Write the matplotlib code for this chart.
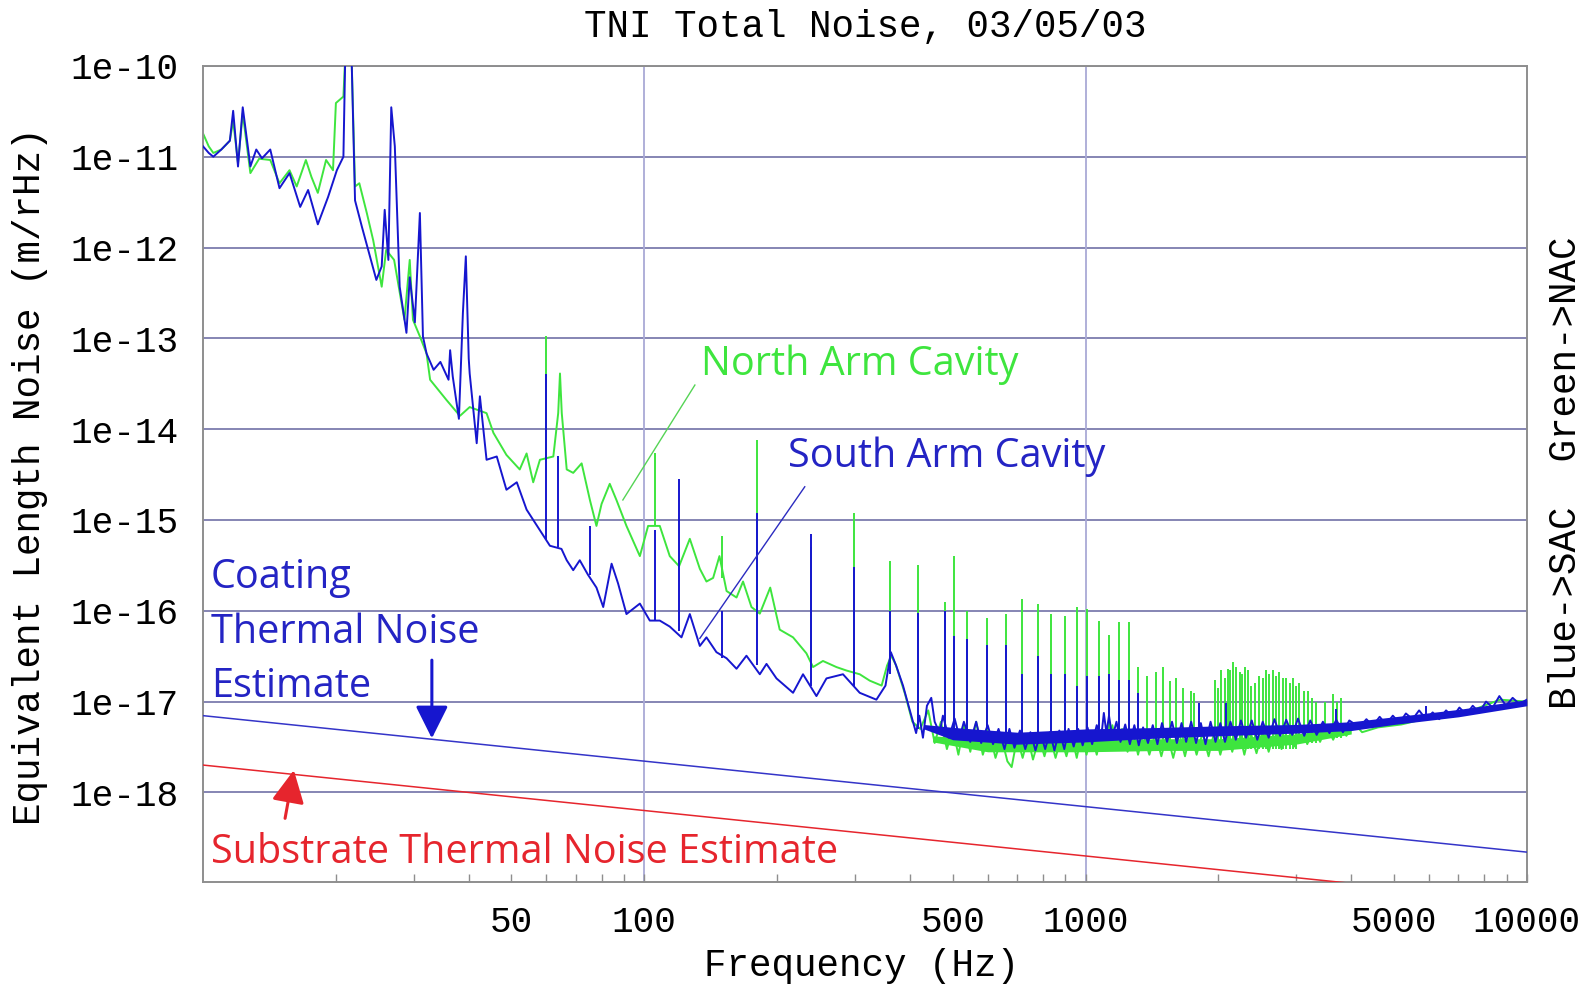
import matplotlib.pyplot as plt
from matplotlib.ticker import NullFormatter, NullLocator

# ---- data (m/rHz vs Hz) ----
# South arm cavity (blue) - noise floor incl. wide low-frequency features
freq_sac = [10.0, 10.3, 10.55, 11.0, 11.5, 11.7, 12.0, 12.3, 12.8, 13.2, 13.6, 14.2,
            14.9, 15.7, 16.6, 17.3, 18.2, 19.2, 20.1, 20.8, 21.0, 21.7, 22.1, 22.9,
            24.7, 25.4, 25.8, 26.3, 26.7, 27.2, 27.9, 28.9, 29.4, 30.2, 31.0, 31.5,
            32.1, 33.3, 34.5, 36.0, 36.3, 36.8, 38.0, 38.8, 39.4, 40.0, 40.2, 41.7,
            42.4, 43.9, 46.3, 48.7, 51.4, 54.1, 58.0, 61.1, 64.9, 66.7, 69.0, 71.4,
            74.5, 77.9, 80.7, 84.3, 87.2, 91.1, 97.7, 102.9, 108.4, 114.2, 121.4, 126.8,
            133.6, 138.3, 145.7, 153.6, 161.8, 170.4, 182.7, 189.2, 199.3, 217.3, 228.9, 245.5,
            258.7, 282.0, 307.7, 335.7, 352, 362, 372, 385.7, 413, 420, 428, 437,
            447, 455, 467, 475, 490, 505, 518, 530, 548, 565, 580, 600,
            617, 635, 655, 672, 690, 710, 730, 750, 770, 790, 810, 830,
            850, 872, 895, 915, 940, 962, 985, 1010, 1035, 1060, 1085, 1100,
            1115, 1130, 1150, 1175, 1200, 1230, 1260, 1290, 1320, 1350, 1385, 1420,
            1455, 1490, 1530, 1570, 1610, 1650, 1690, 1735, 1780, 1825, 1870, 1920,
            1970, 2020, 2070, 2130, 2190, 2250, 2310, 2380, 2450, 2520, 2600, 2680,
            2760, 2850, 2940, 3030, 3130, 3230, 3340, 3450, 3570, 3700, 3830, 3960,
            4175, 4330, 4475, 4640, 4797, 4970, 5143, 5320, 5511, 5700, 5909, 6118,
            6330, 6561, 6800, 7034, 7290, 7541, 7800, 8083, 8370, 8664, 8970, 9287,
            9620, 10000]
sac = [1.3e-11, 1.1e-11, 1.0e-11, 1.2e-11, 1.5e-11, 3.2e-11, 7.8e-12, 3.5e-11, 7.8e-12, 1.2e-11, 9.6e-12, 1.2e-11,
       4.5e-12, 6.6e-12, 2.8e-12, 4.3e-12, 1.8e-12, 3.6e-12, 7.1e-12, 1.0e-11, 1.3e-10, 1.3e-10, 3.3e-12, 1.7e-12,
       4.4e-13, 6.2e-13, 2.6e-12, 7.3e-13, 3.5e-11, 1.3e-11, 3.7e-13, 1.15e-13, 4.7e-13, 1.5e-13, 2.4e-12, 1.05e-13,
       6.8e-14, 4.5e-14, 5.5e-14, 3.5e-14, 7.4e-14, 3.8e-14, 1.3e-14, 1.9e-13, 8.0e-13, 6.0e-14, 4.1e-14, 7.0e-15,
       2.3e-14, 4.6e-15, 5.0e-15, 2.15e-15, 2.6e-15, 1.3e-15, 7.7e-16, 5.2e-16, 4.8e-16, 3.6e-16, 2.8e-16, 3.6e-16,
       2.5e-16, 1.8e-16, 1.1e-16, 3.3e-16, 2.0e-16, 9.2e-17, 1.2e-16, 7.8e-17, 7.8e-17, 6.7e-17, 5.1e-17, 9.2e-17,
       4.1e-17, 5.1e-17, 3.5e-17, 3.0e-17, 2.3e-17, 3.2e-17, 2.0e-17, 2.6e-17, 1.8e-17, 1.25e-17, 2.0e-17, 1.15e-17,
       1.8e-17, 2.0e-17, 1.25e-17, 1.05e-17, 1.5e-17, 3.5e-17, 2.5e-17, 1.5e-17, 4.5e-18, 7.0e-18, 4.0e-18, 9.0e-18,
       1.1e-17, 6.0e-18, 4.5e-18, 7.0e-18, 4.0e-18, 6.5e-18, 4.0e-18, 6.0e-18, 3.6e-18, 6.0e-18, 3.5e-18, 5.5e-18,
       3.4e-18, 5.0e-18, 3.0e-18, 5.0e-18, 3.1e-18, 4.8e-18, 3.0e-18, 4.6e-18, 2.9e-18, 4.5e-18, 3.0e-18, 4.6e-18,
       2.9e-18, 4.8e-18, 3.0e-18, 5.0e-18, 3.2e-18, 5.0e-18, 3.3e-18, 5.2e-18, 3.4e-18, 5.5e-18, 4.0e-18, 7.5e-18,
       4.5e-18, 7.0e-18, 4.0e-18, 6.0e-18, 3.6e-18, 5.6e-18, 3.4e-18, 5.5e-18, 3.3e-18, 5.2e-18, 3.5e-18, 5.5e-18,
       3.4e-18, 5.8e-18, 3.6e-18, 6.0e-18, 3.5e-18, 5.8e-18, 3.6e-18, 6.0e-18, 3.5e-18, 5.8e-18, 3.4e-18, 6.0e-18,
       3.6e-18, 5.8e-18, 3.6e-18, 6.0e-18, 3.8e-18, 6.2e-18, 4.0e-18, 6.2e-18, 3.8e-18, 6.0e-18, 4.0e-18, 6.4e-18,
       4.2e-18, 6.3e-18, 4.3e-18, 6.5e-18, 4.2e-18, 6.2e-18, 4.3e-18, 6.0e-18, 4.5e-18, 6.3e-18, 4.6e-18, 6.2e-18,
       5.2e-18, 6.4e-18, 5.4e-18, 6.8e-18, 5.6e-18, 7.0e-18, 5.8e-18, 7.4e-18, 6.4e-18, 8.0e-18, 6.4e-18, 7.6e-18,
       6.4e-18, 8.0e-18, 6.8e-18, 8.6e-18, 7.2e-18, 9.0e-18, 7.6e-18, 1.0e-17, 8.6e-18, 1.15e-17, 9.0e-18, 1.1e-17,
       9.4e-18, 1.05e-17]

# SAC narrow lines: frequency, floor under the line, top of the line
spike_f_sac = [60.0, 63.8, 75.3, 105.6, 119.9, 149.6, 179.6, 239.2, 298.2, 359.8, 417, 479,
               502, 538.5, 597.7, 659, 719, 780, 836, 896, 958, 1007, 1072, 1129,
               1190, 1253, 1314, 1812, 2082, 3698, 5909]
spike_lo_sac = [6e-16, 5e-16, 2.5e-16, 8e-17, 6e-17, 3e-17, 2.5e-17, 1.5e-17, 1.5e-17, 2e-17, 5e-18, 5e-18,
                5e-18, 5e-18, 5e-18, 4e-18, 4e-18, 4e-18, 4e-18, 4e-18, 4e-18, 4e-18, 5e-18, 6e-18,
                5e-18, 5e-18, 4e-18, 4.5e-18, 4.5e-18, 5e-18, 7e-18]
spike_hi_sac = [4.1e-14, 5e-15, 8.5e-16, 7.7e-16, 2.8e-15, 1e-16, 1.2e-15, 7e-16, 3e-16, 1e-16, 9.5e-17, 1e-16,
                5.3e-17, 4.9e-17, 4.2e-17, 4.2e-17, 2e-17, 3.2e-17, 2e-17, 2e-17, 1.5e-17, 1.9e-17, 1.9e-17, 2e-17,
                1.75e-17, 1.75e-17, 1.25e-17, 9.6e-18, 9.6e-18, 8.2e-18, 9e-18]

# SAC trace core above ~430 Hz (dense data drawn as a band)
band_f_sac = [430, 500, 700, 1000, 1500, 2000, 3000, 4000, 5000, 7000, 10000]
band_lo_sac = [5.0e-18, 3.8e-18, 3.4e-18, 3.6e-18, 4.0e-18, 4.2e-18, 4.5e-18, 4.8e-18, 5.6e-18, 6.8e-18, 9.0e-18]
band_hi_sac = [5.6e-18, 5.2e-18, 4.6e-18, 5.0e-18, 5.2e-18, 5.4e-18, 5.6e-18, 6.0e-18, 6.8e-18, 8.2e-18, 1.05e-17]

# North arm cavity (green)
freq_nac = [10.0, 10.3, 10.55, 11.0, 11.5, 11.7, 12.0, 12.3, 12.8, 13.4, 14.2, 14.9,
            15.7, 16.3, 17.1, 17.6, 18.2, 19.0, 19.7, 20.0, 20.8, 21.0, 21.7, 22.1,
            22.6, 23.5, 24.3, 25.4, 26.0, 27.1, 28.6, 29.4, 29.9, 31.0, 32.1, 32.7,
            35.6, 38.2, 40.2, 43.9, 45.5, 48.7, 52.2, 54.1, 56.0, 58.0, 62.2, 63.8,
            64.4, 65.0, 66.7, 69.0, 72.1, 75.3, 77.9, 80.0, 83.5, 86.5, 91.1, 97.7,
            102, 108.4, 114.2, 119.9, 126.8, 133.6, 138.3, 143.2, 148, 153.6, 161.8, 167.4,
            174.9, 182.7, 192.9, 202.7, 217.3, 233, 241.2, 254, 272.5, 287, 307.7, 324.3,
            345, 355, 363, 372, 390, 405, 422, 440, 455, 470, 485, 500,
            515, 530, 548, 565, 585, 606, 625, 645, 665, 680, 700, 720,
            740, 760, 785, 807, 830, 855, 880, 905, 930, 955, 980, 1005,
            1030, 1060, 1090, 1120, 1150, 1180, 1210, 1245, 1280, 1315, 1350, 1395,
            1440, 1485, 1530, 1580, 1630, 1680, 1730, 1785, 1840, 1900, 1960, 2020,
            2085, 2150, 2220, 2290, 2360, 2440, 2520, 2600, 2690, 2780, 2870, 2970,
            3070, 3180, 3290, 3400, 3520, 3640, 3770, 3900, 4050, 4234, 4600, 5200,
            5900, 6600, 7500, 8700, 10000]
nac = [1.8e-11, 1.3e-11, 1.1e-11, 1.2e-11, 1.5e-11, 2.5e-11, 8.5e-12, 3.0e-11, 6.6e-12, 9.5e-12, 9.2e-12, 5.1e-12,
       7.1e-12, 4.7e-12, 9.2e-12, 6.0e-12, 4.0e-12, 9.2e-12, 7.1e-12, 3.9e-11, 4.6e-11, 1.3e-10, 1.3e-10, 4.7e-12,
       5.1e-12, 2.4e-12, 1.2e-12, 3.7e-13, 9.4e-13, 7.3e-13, 1.6e-13, 7.3e-13, 1.6e-13, 1.05e-13, 6.8e-14, 3.5e-14,
       2.1e-14, 1.4e-14, 1.75e-14, 1.5e-14, 9.1e-15, 5.2e-15, 3.6e-15, 5.4e-15, 2.6e-15, 4.6e-15, 5.0e-15, 1.5e-14,
       4.1e-14, 1.5e-14, 3.6e-15, 3.3e-15, 4.2e-15, 1.65e-15, 8.6e-16, 1.5e-15, 2.5e-15, 1.65e-15, 8.6e-16, 4.0e-16,
       8.6e-16, 8.6e-16, 4.0e-16, 3.1e-16, 6.2e-16, 2.9e-16, 2.1e-16, 2.3e-16, 4.0e-16, 1.65e-16, 1.4e-16, 2.1e-16,
       1.1e-16, 9.3e-17, 1.8e-16, 6.2e-17, 5.1e-17, 3.4e-17, 2.4e-17, 2.8e-17, 2.4e-17, 2.2e-17, 2.0e-17, 1.7e-17,
       1.5e-17, 2.5e-17, 3.2e-17, 2.5e-17, 1.2e-17, 6.0e-18, 5.0e-18, 8.0e-18, 3.5e-18, 6.0e-18, 3.0e-18, 5.0e-18,
       2.6e-18, 5.5e-18, 2.8e-18, 6.0e-18, 2.6e-18, 4.5e-18, 2.4e-18, 4.0e-18, 2.2e-18, 1.9e-18, 4.0e-18, 2.4e-18,
       4.0e-18, 2.3e-18, 4.0e-18, 2.5e-18, 4.2e-18, 2.4e-18, 4.0e-18, 2.5e-18, 4.2e-18, 2.4e-18, 4.5e-18, 2.6e-18,
       4.5e-18, 2.6e-18, 5.0e-18, 3.0e-18, 5.5e-18, 3.0e-18, 5.0e-18, 2.8e-18, 4.8e-18, 2.6e-18, 4.5e-18, 2.6e-18,
       4.5e-18, 2.5e-18, 4.4e-18, 2.4e-18, 4.5e-18, 2.5e-18, 4.6e-18, 2.6e-18, 4.5e-18, 2.5e-18, 4.8e-18, 2.6e-18,
       4.6e-18, 2.8e-18, 5.0e-18, 2.6e-18, 4.8e-18, 2.7e-18, 4.8e-18, 2.8e-18, 5.0e-18, 3.0e-18, 5.2e-18, 3.2e-18,
       5.2e-18, 3.4e-18, 5.2e-18, 3.6e-18, 5.4e-18, 3.8e-18, 5.5e-18, 4.2e-18, 5.8e-18, 4.6e-18, 5.2e-18, 5.6e-18,
       6.5e-18, 7.0e-18, 8.0e-18, 1.05e-17, 1.0e-17]

spike_f_nac = [60.0, 105.6, 149.6, 179.6, 239.2, 298.2, 359.8, 417, 479, 502, 538.5, 597.7,
               659, 719, 780, 836, 896, 958, 1007, 1072, 1129, 1190, 1253, 1314,
               1380, 1441, 1497, 1550, 1605, 1661, 1736, 1765, 1960, 1995, 2030, 2065,
               2100, 2128, 2156, 2195, 2233, 2262, 2292, 2330, 2373, 2425, 2477, 2520,
               2567, 2610, 2657, 2700, 2750, 2800, 2849, 2900, 2949, 3000, 3052, 3120,
               3189, 3260, 3331, 3480, 3632, 3710, 3795]
spike_lo_nac = [4.6e-15, 8.6e-16, 2.3e-16, 1.1e-16, 3e-17, 2.2e-17, 2.5e-17, 5e-18, 5e-18, 4e-18, 4e-18, 4e-18,
                4e-18, 4e-18, 4e-18, 3.5e-18, 3.5e-18, 3.5e-18, 4e-18, 4e-18, 5e-18, 5e-18, 5e-18, 4e-18,
                3e-18, 3e-18, 3e-18, 3e-18, 3e-18, 3e-18, 3e-18, 3e-18, 3e-18, 3e-18, 3e-18, 3e-18,
                3e-18, 3e-18, 3e-18, 3e-18, 3e-18, 3e-18, 3e-18, 3e-18, 3e-18, 3e-18, 3e-18, 3e-18,
                3e-18, 3e-18, 3e-18, 3e-18, 3e-18, 3e-18, 3e-18, 3e-18, 3e-18, 3e-18, 3.5e-18, 3.5e-18,
                3.5e-18, 3.5e-18, 3.5e-18, 4e-18, 4e-18, 4e-18, 4e-18]
spike_hi_nac = [1.05e-13, 5.4e-15, 6.6e-16, 7.6e-15, 5e-16, 1.2e-15, 3.5e-16, 3.2e-16, 1.25e-16, 4e-16, 1e-16, 8.3e-17,
                9.2e-17, 1.35e-16, 1.2e-16, 9.2e-17, 8.7e-17, 1.1e-16, 1.05e-16, 7.8e-17, 5.4e-17, 7.6e-17, 7.6e-17, 2.4e-17,
                1.9e-17, 2.1e-17, 2.4e-17, 1.7e-17, 1.8e-17, 1.4e-17, 1.3e-17, 1.25e-17, 1.75e-17, 1.4e-17, 2.2e-17, 1.8e-17,
                2.3e-17, 2.2e-17, 2.7e-17, 2.4e-17, 2.1e-17, 2.0e-17, 2.4e-17, 2.2e-17, 1.5e-17, 1.6e-17, 1.9e-17, 1.8e-17,
                2.2e-17, 2.0e-17, 2.2e-17, 1.9e-17, 2.1e-17, 1.8e-17, 1.8e-17, 1.6e-17, 1.8e-17, 1.5e-17, 1.6e-17, 1.3e-17,
                1.3e-17, 1.1e-17, 1e-17, 1e-17, 1.2e-17, 1e-17, 1.1e-17]

band_f_nac = [450, 600, 1000, 1500, 2000, 3000, 4000]
band_lo_nac = [3.6e-18, 2.8e-18, 2.8e-18, 2.9e-18, 2.9e-18, 3.4e-18, 4.4e-18]
band_hi_nac = [4.2e-18, 3.8e-18, 3.8e-18, 3.9e-18, 3.9e-18, 4.4e-18, 5.2e-18]

# thermal noise estimates (straight lines on log-log)
est_f = [10, 10000]
coating = [7.0e-18, 2.2e-19]
substrate = [2.0e-18, 6.3e-20]

x_major = [50, 100, 500, 1000, 5000, 10000]
x_labels = ["50", "100", "500", "1000", "5000", "10000"]
x_minor = [20, 30, 40, 60, 70, 80, 90, 200, 300, 400, 600, 700, 800, 900,
           2000, 3000, 4000, 6000, 7000, 8000, 9000]
x_grid = [100, 1000]
y_major = [1e-10, 1e-11, 1e-12, 1e-13, 1e-14, 1e-15, 1e-16, 1e-17, 1e-18]
y_labels = ["1e-10", "1e-11", "1e-12", "1e-13", "1e-14", "1e-15", "1e-16", "1e-17", "1e-18"]

GREEN = "#3ee53e"
BLUE = "#1616cf"
TXT_BLUE = "#2424c4"
RED = "#e6252d"
MONO = "Liberation Mono"
SANS = "Open Sans"

plt.rcParams["font.family"] = MONO

fig = plt.figure(figsize=(15.84, 9.85), dpi=100)
ax = fig.add_axes([0.1282, 0.1049, 0.8357, 0.8282])
ax.set_xscale("log")
ax.set_yscale("log")
ax.set_xlim(10, 10000)
ax.set_ylim(1.04e-19, 1e-10)

for y in y_major:
    ax.axhline(y, color="#7c7cae", lw=1.3, zorder=0)
for x in x_grid:
    ax.axvline(x, color="#a9a9d6", lw=1.3, zorder=0)

# green (north arm) first, blue drawn over it
ax.fill_between(band_f_nac, band_lo_nac, band_hi_nac, color=GREEN, lw=0, zorder=2)
ax.plot(freq_nac, nac, color=GREEN, lw=1.4, zorder=2)
ax.vlines(spike_f_nac, spike_lo_nac, spike_hi_nac, color=GREEN, lw=1.4, zorder=2)

ax.fill_between(band_f_sac, band_lo_sac, band_hi_sac, color=BLUE, lw=0, zorder=3)
ax.plot(freq_sac, sac, color=BLUE, lw=1.4, zorder=3)
ax.vlines(spike_f_sac, spike_lo_sac, spike_hi_sac, color=BLUE, lw=1.4, zorder=3)

ax.plot(est_f, coating, color="#3434c8", lw=1.1, zorder=3)
ax.plot(est_f, substrate, color=RED, lw=1.1, zorder=3)

# labels pointing at the traces
ax.plot([130.2, 89.4], [3.06e-14, 1.66e-15], color="#55d455", lw=1.0, zorder=4)
ax.plot([231, 133.6], [2.32e-15, 4.97e-17], color="#2b2bc0", lw=1.0, zorder=4)
ax.annotate("", xy=(33.0, 3.94e-18), xytext=(33.0, 2.86e-17),
            arrowprops=dict(arrowstyle="-|>,head_length=0.4,head_width=0.2", mutation_scale=50,
                            lw=2.2, color=BLUE, shrinkA=0, shrinkB=0), zorder=5)
ax.annotate("", xy=(16.06, 1.76e-18), xytext=(15.34, 5.18e-19),
            arrowprops=dict(arrowstyle="-|>,head_length=0.4,head_width=0.2", mutation_scale=50,
                            lw=2.2, color=RED, shrinkA=0, shrinkB=0), zorder=5)

fig.text(0.4426, 0.6193, "North Arm Cavity", color=GREEN, fontsize=28.5, family=SANS, va="baseline")
fig.text(0.4975, 0.5256, "South Arm Cavity", color=TXT_BLUE, fontsize=28.5, family=SANS, va="baseline")
fig.text(0.1332, 0.4027, "Coating", color=TXT_BLUE, fontsize=28.5, family=SANS, va="baseline")
fig.text(0.1332, 0.3469, "Thermal Noise", color=TXT_BLUE, fontsize=28.5, family=SANS, va="baseline")
fig.text(0.1332, 0.2927, "Estimate", color=TXT_BLUE, fontsize=28.5, family=SANS, va="baseline")
fig.text(0.1332, 0.1235, "Substrate Thermal Noise Estimate", color=RED, fontsize=28.5,
         family=SANS, va="baseline")

# axes styling
for s in ax.spines.values():
    s.set_color("#8e8e8e")
    s.set_linewidth(1.4)
ax.set_xticks(x_major)
ax.set_xticklabels(x_labels)
ax.set_xticks(x_minor, minor=True)
ax.xaxis.set_minor_formatter(NullFormatter())
ax.set_yticks(y_major)
ax.set_yticklabels(y_labels)
ax.yaxis.set_minor_locator(NullLocator())
ax.tick_params(axis="x", which="both", direction="in", bottom=True, top=False,
               length=6, width=1, color="#8e8e8e", pad=17, labelsize=26)
ax.tick_params(axis="y", which="both", length=0, pad=18, labelsize=26)

fig.text(0.546, 0.9726, "TNI Total Noise, 03/05/03", ha="center", va="center", fontsize=27)
fig.text(0.5436, 0.019, "Frequency (Hz)", ha="center", va="center", fontsize=27)
fig.text(0.0189, 0.5168, "Equivalent Length Noise (m/rHz)", rotation=90,
         ha="center", va="center", fontsize=27)
fig.text(0.9886, 0.5198, "Blue->SAC  Green->NAC", rotation=90,
         ha="center", va="center", fontsize=27)

fig.savefig("out.png", dpi=100)
